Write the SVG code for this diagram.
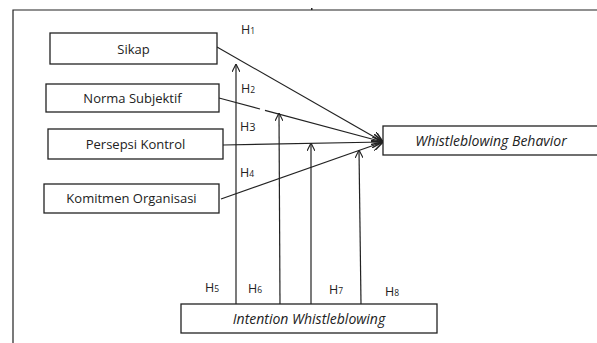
<svg xmlns="http://www.w3.org/2000/svg" width="597" height="343" viewBox="0 0 597 343">
<defs>
<marker id="arr" viewBox="0 0 10 10" refX="10" refY="5" markerWidth="8" markerHeight="8" markerUnits="userSpaceOnUse" orient="auto">
<path d="M0,0 L10,5 L0,10" fill="none" stroke="#222" stroke-width="1.4"/>
</marker>
<marker id="arrB" viewBox="0 0 10 10" refX="10" refY="5" markerWidth="11" markerHeight="11" markerUnits="userSpaceOnUse" orient="auto">
<path d="M0,0 L10,5 L0,10" fill="none" stroke="#222" stroke-width="1.4"/>
</marker>
</defs>
<style>
.box{fill:#fff;stroke:#222;stroke-width:1.3}
.t{font-family:"Open Sans","Liberation Sans",sans-serif;font-size:13px;fill:#222;text-anchor:middle}
.i{font-style:italic;font-size:14px}
.h{font-family:"Open Sans","Liberation Sans",sans-serif;font-size:12.5px;fill:#222}
.s{font-size:8.5px}
.c{fill:none;stroke:#222;stroke-width:1.2}
</style>
<rect width="597" height="343" fill="#fff"/>
<path d="M13,343 L13,10 L597,10" fill="none" stroke="#222" stroke-width="1.2"/>
<rect x="311" y="8" width="1.5" height="2" fill="#222"/>
<g id="connectors">
<line class="c" x1="217" y1="47" x2="383" y2="142" marker-end="url(#arrB)"/>
<line class="c" x1="219" y1="98" x2="260" y2="109"/>
<line class="c" x1="265" y1="110.3" x2="383" y2="142" marker-end="url(#arrB)"/>
<line class="c" x1="223" y1="145" x2="383" y2="142" marker-end="url(#arrB)"/>
<line class="c" x1="221" y1="199" x2="383" y2="142" marker-end="url(#arrB)"/>
<line class="c" x1="236" y1="304" x2="236" y2="64" marker-end="url(#arr)"/>
<line class="c" x1="280" y1="304" x2="279" y2="113" marker-end="url(#arr)"/>
<line class="c" x1="311" y1="304" x2="311" y2="143" marker-end="url(#arr)"/>
<line class="c" x1="361" y1="304" x2="359" y2="150" marker-end="url(#arr)"/>
</g>
<g id="sikap"><rect class="box" x="50" y="33" width="167" height="31"/><text class="t" x="133.5" y="53.5">Sikap</text></g>
<g id="norma"><rect class="box" x="46" y="84" width="173" height="28"/><text class="t" x="132.5" y="102.5">Norma Subjektif</text></g>
<g id="persepsi"><rect class="box" x="48" y="129" width="175" height="30"/><text class="t" x="135.5" y="148.5">Persepsi Kontrol</text></g>
<g id="komitmen"><rect class="box" x="44" y="184" width="175" height="29"/><text class="t" x="131.5" y="203">Komitmen Organisasi</text></g>
<g id="behavior"><rect class="box" x="383" y="126" width="216" height="29"/><text class="t i" x="491" y="145.5">Whistleblowing Behavior</text></g>
<g id="intention"><rect class="box" x="181" y="304" width="256" height="29"/><text class="t i" x="309" y="323.5">Intention Whistleblowing</text></g>
<g id="labels">
<text class="h" x="241" y="34">H<tspan class="s">1</tspan></text>
<text class="h" x="241" y="93">H<tspan class="s">2</tspan></text>
<text class="h" x="240" y="131">H<tspan font-size="11">3</tspan></text>
<text class="h" x="240" y="177">H<tspan class="s">4</tspan></text>
<text class="h" x="205" y="292">H<tspan class="s">5</tspan></text>
<text class="h" x="248" y="293">H<tspan class="s">6</tspan></text>
<text class="h" x="329" y="294">H<tspan class="s">7</tspan></text>
<text class="h" x="385" y="296">H<tspan class="s">8</tspan></text>
</g>
</svg>
